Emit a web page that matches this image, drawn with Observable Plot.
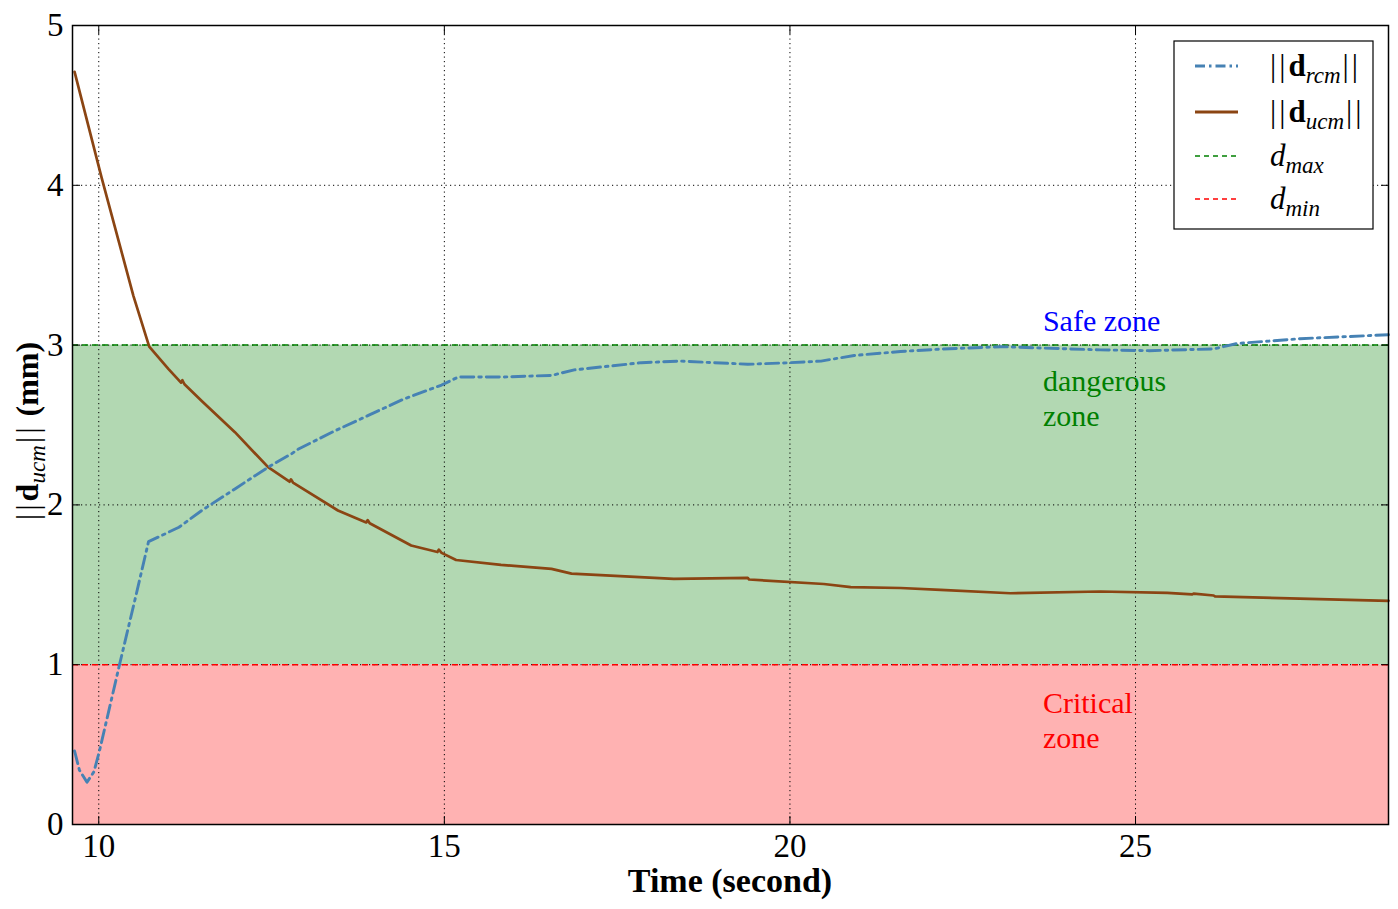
<!DOCTYPE html>
<html><head><meta charset="utf-8">
<script src="https://cdn.jsdelivr.net/npm/d3@7"></script>
<script src="https://cdn.jsdelivr.net/npm/@observablehq/plot@0.6"></script>
<style>body{margin:0;background:#fff}#chart{width:1398px;height:909px}</style>
</head><body><div id="chart"></div>
<script>
// ---- data ----
const rcmTime  = [9.65, 9.72, 9.83, 9.93, 10.01, 10.15, 10.30, 10.52, 10.72, 11.16, 11.49, 11.97, 12.45, 12.79, 12.89, 13.40, 13.90, 14.40, 14.96, 15.20, 15.82, 16.55, 16.88, 17.85, 18.42, 19.39, 20.01, 20.45, 20.93, 21.60, 22.18, 23.05, 24.49, 25.20, 26.13, 26.47, 27.38, 28.66];
const rcmValue = [0.46, 0.34, 0.265, 0.33, 0.46, 0.72, 1.00, 1.40, 1.77, 1.86, 1.965, 2.10, 2.236, 2.32, 2.35, 2.46, 2.56, 2.66, 2.75, 2.80, 2.80, 2.81, 2.845, 2.89, 2.90, 2.88, 2.89, 2.90, 2.935, 2.96, 2.975, 2.99, 2.97, 2.965, 2.976, 3.01, 3.04, 3.065];
const ucmTime  = [9.65, 10.04, 10.50, 10.73, 11.01, 11.19, 11.21, 11.24, 11.49, 11.97, 12.45, 12.76, 12.78, 12.81, 13.46, 13.87, 13.89, 13.92, 14.52, 14.90, 14.92, 14.96, 15.17, 15.82, 16.55, 16.84, 18.32, 19.39, 19.41, 20.49, 20.88, 21.60, 22.18, 23.19, 24.49, 25.46, 25.82, 25.84, 26.13, 26.15, 28.66];
const ucmValue = [4.71, 4.05, 3.31, 2.99, 2.85, 2.765, 2.78, 2.755, 2.65, 2.455, 2.236, 2.145, 2.16, 2.14, 1.965, 1.89, 1.905, 1.885, 1.746, 1.705, 1.72, 1.70, 1.655, 1.625, 1.60, 1.57, 1.537, 1.543, 1.533, 1.505, 1.485, 1.48, 1.468, 1.447, 1.458, 1.45, 1.44, 1.445, 1.433, 1.427, 1.40];
const xTicks = [10, 15, 20, 25];
const yTicks = [0, 1, 2, 3, 4, 5];
const gridYValues = [1, 2, 3, 4];
const dMax = 3, dMin = 1;
const zoneText  = ["Safe zone", "dangerous", "zone", "Critical", "zone"];
const zoneTextY = [3.09, 2.715, 2.495, 0.70, 0.48];
const zoneTextColor = ["#0000ff", "#008000", "#008000", "#ff0000", "#ff0000"];
const zoneTextX = 23.66;
const xLabel = "Time (second)";

// ---- tables ----
const rcm = rcmTime.map((t, i) => ({t, v: rcmValue[i]}));
const ucm = ucmTime.map((t, i) => ({t, v: ucmValue[i]}));
const zones = [{y1: 0, y2: dMin, fill: "#ffb2b2"}, {y1: dMin, y2: dMax, fill: "#b2d8b2"}];
const labels = zoneText.map((s, i) => ({s, y: zoneTextY[i], c: zoneTextColor[i], x: zoneTextX}));

const serif = "'Liberation Serif', 'DejaVu Serif', serif";
const plot = Plot.plot({
  width: 1398, height: 909,
  marginLeft: 72, marginRight: 10, marginTop: 25, marginBottom: 85,
  style: {fontFamily: serif, fontSize: "33px", color: "black", background: "white", overflow: "visible"},
  x: {domain: [9.62, 28.66]},
  y: {domain: [0, 5]},
  marks: [
    Plot.rect(zones, {y1: "y1", y2: "y2", fill: "fill"}),
    Plot.gridX(xTicks, {stroke: "black", strokeOpacity: 1, strokeWidth: 1, strokeDasharray: "1.2,3.3"}),
    Plot.gridY(gridYValues, {stroke: "black", strokeOpacity: 1, strokeWidth: 1, strokeDasharray: "1.2,3.3"}),
    Plot.ruleY([dMax], {stroke: "#008000", strokeWidth: 1.5, strokeDasharray: "6,4"}),
    Plot.ruleY([dMin], {stroke: "#ff0000", strokeWidth: 1.5, strokeDasharray: "6,4"}),
    Plot.line(ucm, {x: "t", y: "v", stroke: "#8b4513", strokeWidth: 2.7}),
    Plot.line(rcm, {x: "t", y: "v", stroke: "#4682b4", strokeWidth: 2.9, strokeDasharray: "13,5,2.5,5"}),
    Plot.text(labels, {x: "x", y: "y", text: "s", fill: "c", textAnchor: "start", lineAnchor: "bottom", fontSize: 30}),
    Plot.axisX(xTicks, {tickSize: -8, tickPadding: 17, fontSize: 33, tickFormat: d => String(d), label: null}),
    Plot.axisX(xTicks, {anchor: "top", tickSize: -8, tickFormat: () => "", label: null}),
    Plot.axisY(yTicks, {tickSize: -8, tickPadding: 17, fontSize: 33, tickFormat: d => String(d), label: null}),
    Plot.axisY(yTicks, {anchor: "right", tickSize: -8, tickFormat: () => "", label: null}),
    Plot.frame({stroke: "black", strokeWidth: 1.5})
  ]
});
document.getElementById("chart").appendChild(plot);

const svg = d3.select(plot);
// x label
svg.append("text").attr("x", 730).attr("y", 892).attr("text-anchor", "middle")
  .attr("font-weight", "bold").style("font-size", "34px").attr("fill", "black").text(xLabel);
// y label
const yl = svg.append("text").attr("transform", "translate(38,431) rotate(-90)")
  .attr("text-anchor", "middle").style("font-size", "32px").attr("fill", "black");
yl.append("tspan").style("letter-spacing", "3px").text("||");
yl.append("tspan").attr("font-weight", "bold").text("d");
yl.append("tspan").attr("font-style", "italic").style("font-size", "23px").attr("dy", 7).text("ucm");
yl.append("tspan").attr("dy", -7).style("letter-spacing", "3px").attr("dx", 2).text("||");
yl.append("tspan").attr("font-weight", "bold").text(" (mm)");

// legend
const legendItems = [
  {stroke: "#4682b4", width: 2.9, dash: "10,4,2.5,4", parts: [["||", {bars: 1}], ["d", {bold: 1}], ["rcm", {sub: 1}], ["||", {unsub: 1, bars: 1}]]},
  {stroke: "#8b4513", width: 3, dash: null, parts: [["||", {bars: 1}], ["d", {bold: 1}], ["ucm", {sub: 1}], ["||", {unsub: 1, bars: 1}]]},
  {stroke: "#008000", width: 1.3, dash: "5,4", parts: [["d", {ital: 1}], ["max", {sub: 1}]]},
  {stroke: "#ff0000", width: 1.3, dash: "5,4", parts: [["d", {ital: 1}], ["min", {sub: 1}]]}
];
const legendRows = [66, 112, 156, 199];
const lg = svg.append("g").attr("text-anchor", "start");
lg.append("rect").attr("x", 1174).attr("y", 41).attr("width", 199).attr("height", 188)
  .attr("fill", "white").attr("stroke", "black").attr("stroke-width", 1.2);
legendItems.forEach((it, i) => {
  const cy = legendRows[i];
  lg.append("line").attr("x1", 1195).attr("x2", 1238).attr("y1", cy).attr("y2", cy)
    .attr("stroke", it.stroke).attr("stroke-width", it.width).attr("stroke-dasharray", it.dash);
  const t = lg.append("text").attr("x", 1270).attr("y", cy + 10).attr("text-anchor", "start")
    .style("font-size", "31px").attr("fill", "black");
  it.parts.forEach(([s, o]) => {
    const sp = t.append("tspan").text(s);
    if (o.bars) sp.style("letter-spacing", "3px");
    if (o.bold) sp.attr("font-weight", "bold");
    if (o.ital) sp.attr("font-style", "italic");
    if (o.sub) sp.attr("font-style", "italic").style("font-size", "23px").attr("dy", 7);
    if (o.unsub) sp.attr("dy", -7).attr("dx", 2);
  });
});
</script>
</body></html>
